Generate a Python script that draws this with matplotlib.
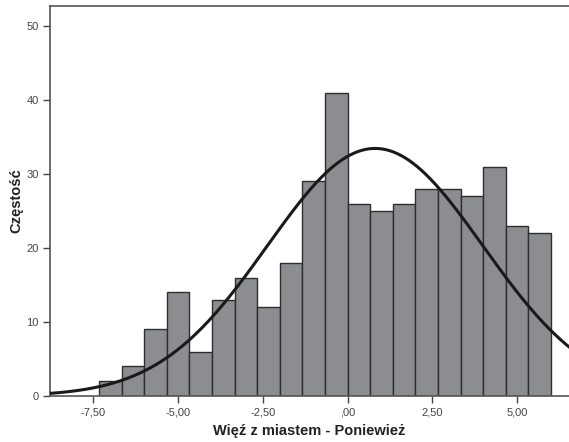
import numpy as np
import matplotlib.pyplot as plt

plt.rcParams['font.family'] = ['Liberation Sans', 'DejaVu Sans']

# histogram data (20 bins, width 2/3, from -7.33 to 6.00)
bin_start = -22 / 3
bin_width = 2 / 3
counts = [2, 4, 9, 14, 6, 13, 16, 12, 18, 29, 41, 26, 25, 26, 28, 28, 27, 31, 23, 22]
x_ticks = [-7.5, -5.0, -2.5, 0.0, 2.5, 5.0]
x_tick_labels = ['-7,50', '-5,00', '-2,50', ',00', '2,50', '5,00']
y_ticks = [0, 10, 20, 30, 40, 50]
curve_mean = 0.81
curve_sd = 3.18

fig = plt.figure(figsize=(5.69, 4.42), dpi=100)
ax = fig.add_axes([50 / 569, 46 / 442, 519 / 569, 390 / 442])

lefts = bin_start + bin_width * np.arange(len(counts))
ax.bar(lefts, counts, width=bin_width, align='edge', color='#8c8d91',
       edgecolor='#2e2e2e', linewidth=1.0, zorder=2)

n = sum(counts)
xs = np.linspace(-8.8, 6.6, 400)
ys = n * bin_width / (curve_sd * np.sqrt(2 * np.pi)) * np.exp(-0.5 * ((xs - curve_mean) / curve_sd) ** 2)
ax.plot(xs, ys, color='#1a1a1a', linewidth=2.2, zorder=3)

ax.set_xlim(-8.78, 6.53)
ax.set_ylim(0, 52.7)
ax.set_xticks(x_ticks)
ax.set_xticklabels(x_tick_labels)
ax.set_yticks(y_ticks)
ax.tick_params(direction='out', length=5, width=1, color='#444444',
               labelsize=8, labelcolor='#444444', pad=3)

for side in ['left', 'top', 'bottom']:
    ax.spines[side].set_color('#555555')
    ax.spines[side].set_linewidth(1.2)
ax.spines['right'].set_visible(False)

ax.set_xlabel('Więź z miastem - Poniewież', fontsize=10.5, fontweight='bold',
              color='#222222', labelpad=5)
ax.set_ylabel('Częstość', fontsize=10.5, fontweight='bold', color='#222222', labelpad=2)

fig.savefig('out.png', dpi=100)
